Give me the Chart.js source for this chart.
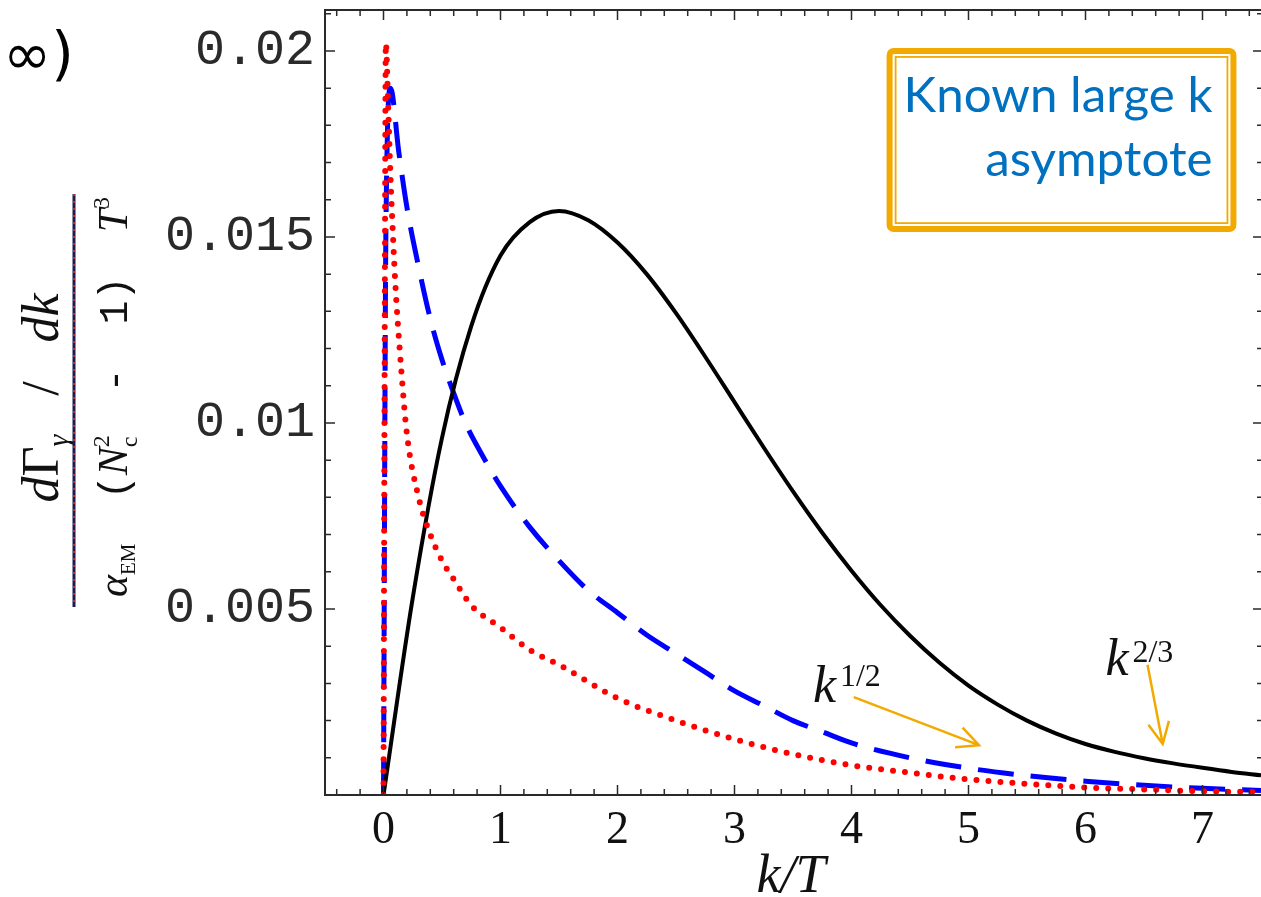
<!DOCTYPE html>
<html>
<head>
<meta charset="utf-8">
<script src="https://cdn.jsdelivr.net/npm/chart.js@4.4.0/dist/chart.umd.min.js"></script>
<style>
  html, body { margin: 0; padding: 0; background: #fff; }
</style>
</head>
<body>
<canvas id="rateChart" width="1261" height="897"></canvas>
<script>
// k/T grid and rates
const kSolid = [0, 0.25, 0.5, 0.75, 1.0, 1.25, 1.5, 1.75, 2.0, 2.25, 2.5, 2.75, 3.0, 3.25, 3.5, 3.75, 4.0, 4.25, 4.5, 4.75, 5.0, 5.25, 5.5, 5.75, 6.0, 6.25, 6.5, 6.75, 7.0, 7.25, 7.5];
const rateSolid = [0, 0.0053, 0.0096, 0.0126, 0.0145, 0.0154, 0.0157, 0.01545, 0.01485, 0.0140, 0.01295, 0.01178, 0.01056, 0.00934, 0.00816, 0.00705, 0.00603, 0.0051, 0.00428, 0.00356, 0.00294, 0.00243, 0.0020, 0.00165, 0.00137, 0.00116, 0.00099, 0.00085, 0.00073, 0.00062, 0.00053];

const kDashed = [0, 0.02, 0.06, 0.13, 0.2, 0.3, 0.4, 0.5, 0.6, 0.7, 0.85, 1.0, 1.25, 1.5, 1.75, 2.0, 2.25, 2.5, 2.75, 3.0, 3.25, 3.5, 3.75, 4.0, 4.5, 5.0, 5.5, 6.0, 6.5, 7.0, 7.5];
const rateDashed = [0, 0.0150, 0.0190, 0.0173, 0.0158, 0.0142, 0.0128, 0.0117, 0.0108, 0.0100, 0.0091, 0.0083, 0.0072, 0.0063, 0.0055, 0.0049, 0.0043, 0.0038, 0.0033, 0.0028, 0.0024, 0.0020, 0.0017, 0.0014, 0.0010, 0.00072, 0.00052, 0.00037, 0.00026, 0.00018, 0.00012];

const kDotted = [0, 0.01, 0.02, 0.04, 0.06, 0.08, 0.1, 0.15, 0.2, 0.3, 0.4, 0.5, 0.6, 0.75, 1.0, 1.25, 1.5, 2.0, 2.5, 3.0, 3.5, 4.0, 4.5, 5.0, 5.5, 6.0, 6.5, 7.0, 7.5];
const rateDotted = [0, 0.0120, 0.0202, 0.0185, 0.0166, 0.0151, 0.0138, 0.0115, 0.0097, 0.0080, 0.0070, 0.0063, 0.0058, 0.0051, 0.0045, 0.0039, 0.0035, 0.0026, 0.0020, 0.0015, 0.0011, 0.0008, 0.0006, 0.00042, 0.0003, 0.0002, 0.00015, 0.0001, 0.00008];

const xTickValues = [0, 1, 2, 3, 4, 5, 6, 7];
const yTickValues = [0.005, 0.01, 0.015, 0.02];
const yTickLabels = ['0.005', '0.01', '0.015', '0.02'];

const toPoints = (xs, ys) => xs.map((x, i) => ({ x: x, y: ys[i] }));

const ORANGE = '#F2AA00';

function arrow(ctx, x1, y1, x2, y2) {
  const ang = Math.atan2(y2 - y1, x2 - x1);
  const head = 24, spread = 0.45;
  ctx.beginPath();
  ctx.moveTo(x1, y1);
  ctx.lineTo(x2, y2);
  ctx.moveTo(x2 - head * Math.cos(ang - spread), y2 - head * Math.sin(ang - spread));
  ctx.lineTo(x2, y2);
  ctx.lineTo(x2 - head * Math.cos(ang + spread), y2 - head * Math.sin(ang + spread));
  ctx.stroke();
}

// text runs laid out along x, centred on 0, spread out to targetLen
function drawRuns(ctx, runs, targetLen) {
  let total = 0, gaps = 0;
  runs.forEach(r => {
    ctx.font = r.font;
    r.w = r.stack ? 0 : ctx.measureText(r.t).width;
    total += r.w;
    if (r.gap) gaps++;
  });
  const extra = gaps ? (targetLen - total) / gaps : 0;
  let x = -targetLen / 2;
  runs.forEach(r => {
    if (r.gap) x += extra;
    ctx.font = r.font;
    ctx.fillText(r.t, x, r.dy || 0);
    x += r.w;
  });
}

const framePlugin = {
  id: 'frame',
  afterDatasetsDraw(chart) {
    const { ctx, chartArea: a, scales: { x, y } } = chart;
    const right = x.getPixelForValue(7.5) + 2;
    ctx.save();
    ctx.strokeStyle = '#2a2a2a';
    ctx.lineWidth = 2;
    ctx.strokeRect(a.left, a.top, right - a.left, a.bottom - a.top);
    ctx.lineWidth = 1.5;
    ctx.beginPath();
    for (let i = -2; i <= 37; i++) {
      const px = x.getPixelForValue(i / 5);
      const len = i % 5 === 0 ? 10 : 6;
      ctx.moveTo(px, a.bottom); ctx.lineTo(px, a.bottom - len);
      ctx.moveTo(px, a.top); ctx.lineTo(px, a.top + len);
    }
    for (let i = 1; i <= 21; i++) {
      const py = y.getPixelForValue(i / 1000);
      const len = i % 5 === 0 ? 10 : 6;
      ctx.moveTo(a.left, py); ctx.lineTo(a.left + len, py);
      ctx.moveTo(right, py); ctx.lineTo(right - len, py);
    }
    ctx.stroke();
    ctx.restore();
  }
};

const notesPlugin = {
  id: 'notes',
  afterDraw(chart) {
    const { ctx, chartArea: a, scales: { x, y } } = chart;
    const X = v => x.getPixelForValue(v), Y = v => y.getPixelForValue(v);
    ctx.save();

    // boxed note
    const bl = X(4.30), br = X(7.29), bt = Y(0.02008), bb = Y(0.01513);
    ctx.strokeStyle = ORANGE;
    ctx.lineWidth = 6;
    ctx.beginPath();
    ctx.roundRect(bl + 3, bt + 3, br - bl - 6, bb - bt - 6, 4);
    ctx.stroke();
    ctx.lineWidth = 1.8;
    ctx.strokeRect(bl + 9, bt + 9, br - bl - 18, bb - bt - 18);

    ctx.fillStyle = '#0070C0';
    ctx.textAlign = 'right';
    ctx.textBaseline = 'alphabetic';
    let fs = 48;
    ctx.font = fs + 'px Lato';
    fs = fs * 309 / ctx.measureText('Known large k').width;
    ctx.font = fs + 'px Lato';
    ctx.fillText('Known large k', X(7.085), bt + 64);
    ctx.fillText('asymptote', X(7.085), bt + 128);

    // power-law labels and arrows
    ctx.textAlign = 'left';
    ctx.fillStyle = '#111';
    ctx.font = 'italic 52px "Liberation Serif"';
    ctx.fillText('k', X(3.67), Y(0.0025));
    ctx.fillText('k', X(6.17), Y(0.00323));
    ctx.font = '32px "Liberation Serif"';
    ctx.fillText('1/2', X(3.67) + 27, Y(0.0025) - 16);
    ctx.fillText('2/3', X(6.17) + 27, Y(0.00323) - 13);

    ctx.strokeStyle = ORANGE;
    ctx.lineWidth = 2.5;
    arrow(ctx, X(4.02), Y(0.00263), X(5.09), Y(0.00134));
    arrow(ctx, X(6.53), Y(0.0035), X(6.66), Y(0.00137));

    // fragment of the cut-off panel title
    ctx.fillStyle = '#000';
    ctx.font = '58px "DejaVu Sans"';
    ctx.fillText('\u221E)', 3, 74);

    // x-axis title
    ctx.fillStyle = '#111';
    ctx.textAlign = 'center';
    ctx.font = 'italic 54px "Liberation Serif"';
    ctx.fillText('k/T', (a.left + a.right) / 2 - 2, 892);

    // y-axis fraction title
    const num = [
      { t: 'd', font: 'italic 52px "Liberation Serif"' },
      { t: '\u0393', font: '52px "Liberation Serif"' },
      { t: '\u03B3', font: 'italic 30px "Liberation Serif"', dy: 10 },
      { t: '/', font: '52px "Liberation Serif"', gap: true },
      { t: 'dk', font: 'italic 52px "Liberation Serif"', gap: true }
    ];
    const den = [
      { t: '\u03B1', font: 'italic 42px "Liberation Serif"' },
      { t: 'EM', font: '21px "Liberation Serif"', dy: 8 },
      { t: '(', font: '40px "Liberation Mono"', gap: true },
      { t: 'N', font: 'italic 42px "Liberation Serif"' },
      { t: '2', font: '24px "Liberation Serif"', dy: -18, stack: true },
      { t: 'c', font: '24px "Liberation Serif"', dy: 10 },
      { t: '-', font: '40px "Liberation Mono"', gap: true },
      { t: '1', font: '40px "Liberation Mono"', gap: true },
      { t: ')', font: '40px "Liberation Mono"' },
      { t: 'T', font: 'italic 42px "Liberation Serif"', gap: true },
      { t: '3', font: '24px "Liberation Serif"', dy: -18 }
    ];
    ctx.textAlign = 'left';
    ctx.save();
    ctx.translate(58, 398);
    ctx.rotate(-Math.PI / 2);
    drawRuns(ctx, num, 209);
    ctx.restore();
    ctx.save();
    ctx.translate(127, 397);
    ctx.rotate(-Math.PI / 2);
    drawRuns(ctx, den, 400);
    ctx.restore();

    ctx.lineWidth = 3;
    ctx.strokeStyle = '#1c1c50';
    ctx.beginPath();
    ctx.moveTo(74, 194); ctx.lineTo(74, 607);
    ctx.stroke();
    ctx.setLineDash([2, 5]);
    ctx.strokeStyle = '#b03030';
    ctx.lineWidth = 2;
    ctx.stroke();
    ctx.restore();
  }
};

const ctx = document.getElementById('rateChart').getContext('2d');

const rateChart = new Chart(ctx, {
  type: 'line',
  data: {
    datasets: [
      {
        label: 'dotted',
        data: toPoints(kDotted, rateDotted),
        borderColor: '#FF0000',
        borderWidth: 6,
        borderDash: [0, 12],
        borderCapStyle: 'round',
        cubicInterpolationMode: 'monotone',
        pointRadius: 0,
        fill: false
      },
      {
        label: 'solid',
        data: toPoints(kSolid, rateSolid),
        borderColor: '#000000',
        borderWidth: 4,
        cubicInterpolationMode: 'monotone',
        pointRadius: 0,
        fill: false
      },
      {
        label: 'dashed',
        data: toPoints(kDashed, rateDashed),
        borderColor: '#0000FF',
        borderWidth: 5,
        borderDash: [36, 17],
        cubicInterpolationMode: 'monotone',
        pointRadius: 0,
        fill: false
      }
    ]
  },
  options: {
    responsive: false,
    animation: false,
    layout: { padding: { left: 0, top: 10, right: 0, bottom: 0 } },
    plugins: { legend: { display: false }, tooltip: { enabled: false } },
    scales: {
      x: {
        type: 'linear',
        min: -0.5,
        max: 7.5,
        grid: { display: false, drawTicks: false },
        border: { display: false },
        afterBuildTicks: s => { s.ticks = xTickValues.map(v => ({ value: v })); },
        ticks: {
          font: { family: 'Liberation Serif', size: 46 },
          color: '#111',
          padding: 8,
          maxRotation: 0,
          autoSkip: false,
          callback: v => String(v)
        },
        afterFit: s => { s.height = 102; s.paddingLeft = 0; s.paddingRight = 0; }
      },
      y: {
        type: 'linear',
        min: 0,
        max: 0.0211,
        grid: { display: false, drawTicks: false },
        border: { display: false },
        afterBuildTicks: s => { s.ticks = yTickValues.map(v => ({ value: v })); },
        ticks: {
          font: { family: 'Liberation Mono', size: 50 },
          color: '#2a2a2a',
          padding: 10,
          autoSkip: false,
          callback: (v, i) => yTickLabels[i]
        },
        afterFit: s => { s.width = 325; s.paddingTop = 0; s.paddingBottom = 0; }
      }
    }
  },
  plugins: [framePlugin, notesPlugin]
});
</script>
</body>
</html>
